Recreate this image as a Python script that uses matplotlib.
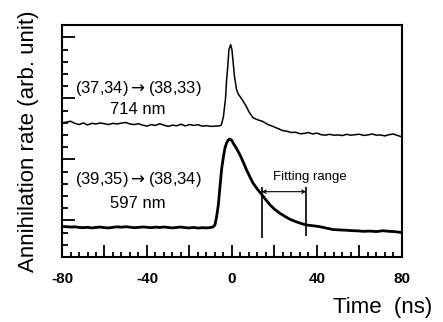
import numpy as np
import matplotlib
matplotlib.use("Agg")
import matplotlib.pyplot as plt
from matplotlib.ticker import MultipleLocator, FuncFormatter

plt.rcParams['font.family'] = ['Liberation Sans', 'DejaVu Sans']

# upper transition (37,34)->(38,33), 714 nm
t_upper = [-80, -78, -76, -74, -72, -70, -68, -66, -64, -62, -60, -58, -56, -54,
           -52, -50, -48, -46, -44, -42, -40, -38, -36, -34, -32, -30, -28, -26,
           -24, -22, -20, -18, -16, -14, -12, -10, -8, -6, -5, -4, -3, -2.5, -2,
           -1.4, -0.6, 0, 0.6, 1.2, 2.2, 3, 3.8, 5, 6.9, 8, 10, 12, 14.6, 17,
           19.3, 22, 24, 26, 28, 30, 32, 34, 36, 38, 40, 42, 44, 46, 48, 50, 52,
           54, 56, 58, 60, 62, 64, 66, 68, 70, 72, 74, 76, 78, 80]
rate_upper = [8.00, 8.05, 8.12, 7.95, 7.85, 7.98, 7.82, 7.95, 7.90, 7.98, 7.92,
              7.85, 7.95, 7.90, 7.97, 8.02, 7.90, 7.85, 7.92, 7.80, 7.72, 7.85,
              7.78, 7.92, 7.80, 7.70, 7.80, 7.75, 7.88, 7.74, 7.85, 7.78, 7.84,
              7.72, 7.76, 7.70, 7.72, 7.74, 7.80, 8.5, 10.0, 11.5, 12.5, 14.0,
              14.4, 14.0, 12.9, 11.8, 10.7, 10.35, 10.15, 9.85, 9.3, 8.9, 8.4,
              8.25, 8.1, 7.85, 7.7, 7.50, 7.35, 7.30, 7.20, 7.22, 7.10, 7.12,
              7.20, 7.08, 7.15, 7.02, 6.98, 7.05, 6.98, 7.0, 6.95, 7.05, 6.98,
              7.02, 7.06, 6.96, 7.0, 7.08, 6.98, 7.0, 6.92, 7.02, 7.08, 6.95,
              6.85]

# lower transition (39,35)->(38,34), 597 nm
t_lower = [-80, -78, -76, -74, -72, -70, -68, -66, -64, -62, -60, -58, -56, -54,
           -52, -50, -48, -46, -44, -42, -40, -38, -36, -34, -32, -30, -28, -26,
           -24, -22, -20, -18, -16, -14, -12, -10, -9, -8, -7.2, -6.4, -5.6,
           -4.8, -4, -3.3, -2.5, -1.7, -0.9, 0, 0.6, 2, 3.8, 5.4, 6.9, 8.5, 10,
           12, 14, 16, 18, 20, 22.6, 25, 27.3, 30, 32.5, 35, 37, 39, 41.4, 44,
           47.5, 50, 53, 56, 59, 62, 65, 68, 71, 74, 77, 80]
rate_lower = [-0.50, -0.52, -0.55, -0.53, -0.58, -0.60, -0.57, -0.62, -0.58,
              -0.55, -0.60, -0.62, -0.57, -0.53, -0.56, -0.52, -0.56, -0.60,
              -0.58, -0.54, -0.57, -0.60, -0.56, -0.58, -0.55, -0.58, -0.62,
              -0.58, -0.55, -0.60, -0.62, -0.58, -0.63, -0.60, -0.62, -0.58,
              -0.55, -0.38, 0.3, 1.26, 2.8, 4.27, 5.2, 5.91, 6.35, 6.59, 6.67,
              6.55, 6.32, 5.95, 5.36, 4.75, 4.13, 3.55, 3.04, 2.55, 2.14, 1.68,
              1.26, 0.92, 0.58, 0.32, 0.09, -0.10, -0.25, -0.38, -0.42, -0.46,
              -0.52, -0.62, -0.75, -0.78, -0.80, -0.84, -0.86, -0.90, -0.88,
              -0.92, -0.85, -0.90, -0.93, -1.0]

fit_range = [14, 35]

fig = plt.figure(figsize=(4.43, 3.22), dpi=100)
ax = fig.add_axes([0.140, 0.202, 0.767, 0.720])

ax.plot(t_upper, rate_upper, color='black', lw=1.1)
ax.plot(t_lower, rate_lower, color='black', lw=2.0)

# fitting range markers
ax.vlines(fit_range[0], -1.47, 2.76, color='black', lw=1.2)
ax.vlines(fit_range[1], -1.25, 2.76, color='black', lw=1.2)
ax.annotate('', xy=(fit_range[0], 2.35), xytext=(fit_range[1], 2.35),
            arrowprops=dict(arrowstyle='<->', lw=0.8, mutation_scale=6,
                            shrinkA=0, shrinkB=0))
ax.text(36.5, 3.53, 'Fitting range', fontsize=9.5, ha='center', va='center')

ax.text(-44.2, 10.8, r'(37,34)$\rightarrow$(38,33)', fontsize=12, ha='center', va='center')
ax.text(-44.5, 9.05, '714 nm', fontsize=12, ha='center', va='center')
ax.text(-44.2, 3.31, r'(39,35)$\rightarrow$(38,34)', fontsize=12, ha='center', va='center')
ax.text(-44.5, 1.40, '597 nm', fontsize=12, ha='center', va='center')

ax.set_xlim(-80, 80)
ax.set_ylim(-3, 16)

ax.xaxis.set_major_locator(MultipleLocator(20))
ax.xaxis.set_minor_locator(MultipleLocator(4))
ax.xaxis.set_major_formatter(FuncFormatter(lambda v, p: '%d' % v if v % 40 == 0 else ''))
ax.yaxis.set_major_locator(MultipleLocator(5))
ax.yaxis.set_minor_locator(MultipleLocator(1))
ax.yaxis.set_major_formatter(FuncFormatter(lambda v, p: ''))

ax.tick_params(which='both', direction='in', top=False, right=False, width=1.3)
ax.tick_params(axis='x', which='major', length=8.5, pad=11, labelsize=11)
ax.tick_params(axis='x', which='minor', length=3.6)
ax.tick_params(axis='y', which='major', length=9.4)
ax.tick_params(axis='y', which='minor', length=4.5)
for lab in ax.get_xticklabels():
    lab.set_fontweight('bold')

for sp in ax.spines.values():
    sp.set_linewidth(1.5)

ax.set_xlabel('Time  (ns)', fontsize=16, ha='right', va='center')
ax.xaxis.set_label_coords(1.091, -0.22)
ax.set_ylabel('Annihilation rate (arb. unit)', fontsize=16, va='center')
ax.yaxis.set_label_coords(-0.10, 0.5)

fig.savefig('out.png', dpi=100)
